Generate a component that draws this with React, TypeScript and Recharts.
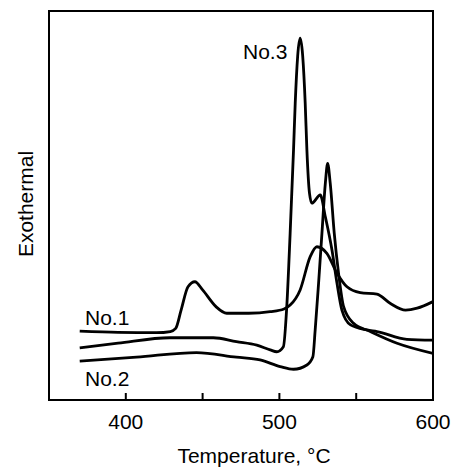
import { LineChart, Line, XAxis, YAxis, ReferenceArea } from 'recharts'

// DSC traces, temperature in °C and exothermal signal in arbitrary units
const no1Temp = [370, 395, 420, 429, 432.5, 436, 440.5, 445, 450, 458.7, 465.7, 480, 494, 503, 507, 513.5, 520, 524.4, 530.9, 537.5, 544, 552.6, 563.5, 572.3, 582.1, 589.7, 600]
const no1Signal = [17.7, 17.4, 17.3, 17.6, 18.4, 23.1, 29.1, 30.4, 28.3, 24.0, 22.3, 22.3, 22.7, 23.4, 24.4, 28.3, 36.8, 39.4, 37.7, 32.6, 29.1, 27.6, 27.2, 24.8, 23.1, 23.6, 25.3]

const no2Temp = [370, 407, 446, 472, 487.4, 500.5, 509.2, 517.9, 521.8, 523.3, 525.5, 527.7, 529.9, 531.4, 533.1, 535.7, 538.5, 541.8, 548.3, 559.2, 576.6, 600]
const no2Signal = [10.0, 11.0, 12.2, 11.0, 10.3, 8.6, 7.9, 9.0, 11.1, 18.0, 30.0, 42.9, 55.7, 60.8, 55.7, 42.9, 32.6, 24.0, 19.7, 17.6, 14.6, 12.0]

const no3Temp = [370, 395, 428.7, 457, 472, 485.3, 494, 498.3, 502.6, 504.8, 507, 509.2, 510.3, 513.5, 516.8, 517.9, 519.6, 521.1, 526.6, 529.9, 534.2, 537.5, 540.7, 546.3, 557.1, 563.5, 583, 600]
const no3Signal = [13.4, 14.6, 16.0, 16.0, 15.0, 14.1, 12.9, 12.4, 13.7, 24, 42.9, 64.3, 76.3, 93.0, 76.3, 64.3, 53.1, 50.6, 52.7, 47.1, 38.6, 30.0, 23.1, 19.3, 18.0, 17.6, 15.6, 15.4]

const xTicks = [400, 450, 500, 550, 600]
const labeledTicks = [400, 500, 600]

const toRows = (temp: number[], signal: number[]) => temp.map((t, i) => ({ t, v: signal[i] }))

const font = '"Liberation Sans", Arial, sans-serif'

// tick mark pointing into the plot, label only on every other tick
function InwardTick({ x, y, payload }: any) {
  const v = payload.value as number
  return (
    <g>
      <line x1={x} x2={x} y1={y} y2={y - 7} stroke="#000" strokeWidth={2} />
      {labeledTicks.includes(v) && (
        <text x={x} y={y + 29} textAnchor="middle" fill="#000" fontSize={21} fontFamily={font}>
          {v}
        </text>
      )}
    </g>
  )
}

export default function App() {
  const lineProps = {
    dataKey: 'v',
    type: 'monotone' as const,
    stroke: '#000',
    strokeWidth: 2.8,
    dot: false,
    isAnimationActive: false,
  }

  return (
    <div style={{ position: 'absolute', left: 0, top: 0, width: 457, height: 467, background: '#fff' }}>
      <LineChart width={457} height={467} margin={{ top: 11, right: 24, left: 49, bottom: 0 }}>
        <XAxis
          dataKey="t"
          type="number"
          domain={[350, 600]}
          ticks={xTicks}
          interval={0}
          allowDataOverflow
          height={67}
          tickSize={0}
          tickMargin={0}
          tickLine={false}
          tick={<InwardTick />}
          axisLine={{ stroke: '#000', strokeWidth: 2 }}
        />
        <YAxis type="number" domain={[0, 100]} hide />
        <ReferenceArea x1={350} x2={600} y1={0} y2={100} fill="none" stroke="#000" strokeWidth={2} />
        <Line {...lineProps} data={toRows(no1Temp, no1Signal)} />
        <Line {...lineProps} data={toRows(no2Temp, no2Signal)} />
        <Line {...lineProps} data={toRows(no3Temp, no3Signal)} />
      </LineChart>
      <svg width={457} height={467} style={{ position: 'absolute', left: 0, top: 0, pointerEvents: 'none' }}>
        <g fontFamily={font} fontSize={21} fill="#000">
          <text x={243} y={59}>No.3</text>
          <text x={85} y={325}>No.1</text>
          <text x={85} y={386}>No.2</text>
          <text x={254} y={463} textAnchor="middle">Temperature, °C</text>
          <text x={33} y={204} textAnchor="middle" transform="rotate(-90 33 204)">Exothermal</text>
        </g>
      </svg>
    </div>
  )
}
